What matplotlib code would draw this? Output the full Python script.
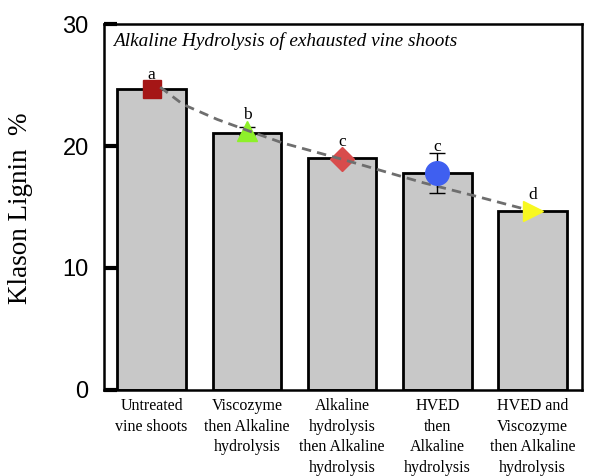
"""Klason lignin of exhausted vine shoots after alkaline hydrolysis pretreatments."""

import matplotlib
matplotlib.use("Agg")
import matplotlib.pyplot as plt

treatments = [
    "Untreated\nvine shoots",
    "Viscozyme\nthen Alkaline\nhydrolysis",
    "Alkaline\nhydrolysis\nthen Alkaline\nhydrolysis",
    "HVED\nthen\nAlkaline\nhydrolysis",
    "HVED and\nViscozyme\nthen Alkaline\nhydrolysis",
]
lignin = [24.7, 21.1, 19.0, 17.8, 14.7]
marker_values = [24.7, 21.25, 18.95, 17.8, 14.7]
errors = [0.0, 0.35, 0.0, 1.65, 0.0]
letters = ["a", "b", "c", "c", "d"]
letter_y = [25.55, 22.2, 20.0, 19.6, 15.65]

# dashed trend line
trend_x = [0.09, 0.33, 0.69, 1.03, 1.38, 2.01, 2.85, 3.41, 3.9]
trend_y = [24.84, 23.42, 22.19, 21.22, 20.25, 18.9, 17.0, 15.88, 14.87]

markers = ["s", "^", "D", "o", ">"]
marker_colors = ["#a51616", "#8ef02a", "#d84c4c", "#3f5ff0", "#f8f820"]
marker_sizes = [13, 15, 12, 17, 14]
marker_z = [3, 3, 3, 5, 5]

serif = ["Liberation Serif", "DejaVu Serif"]
sans = ["Liberation Sans", "DejaVu Sans"]

fig = plt.figure(figsize=(5.91, 4.76), dpi=100)
ax = fig.add_axes([0.176, 0.181, 0.809, 0.768])

x = list(range(len(lignin)))
ax.bar(x, lignin, width=0.72, color="#c8c8c8", edgecolor="black", linewidth=2, zorder=2)

ax.plot(trend_x, trend_y, linestyle=(0, (3.4, 2.2)), color="#6e6e6e", linewidth=2,
        zorder=4, dash_capstyle="butt", solid_joinstyle="round")

for i in x:
    if errors[i] > 0:
        ax.errorbar(i, marker_values[i], yerr=errors[i], fmt="none", ecolor="black",
                    elinewidth=1, capsize=5.5, capthick=1, zorder=marker_z[i] - 0.5)
    ax.plot(i, marker_values[i], marker=markers[i], markersize=marker_sizes[i],
            color=marker_colors[i], markeredgecolor=marker_colors[i], linestyle="none",
            zorder=marker_z[i])
    ax.text(i, letter_y[i], letters[i], ha="center", va="baseline", fontsize=12.5,
            family=serif)

ax.text(0.018, 0.978, "Alkaline Hydrolysis of exhausted vine shoots", transform=ax.transAxes,
        ha="left", va="top", fontsize=13.9, style="italic", family=serif)

ax.set_xlim(-0.5, 4.52)
ax.set_ylim(0, 30)
ax.set_yticks([0, 10, 20, 30])
ax.set_xticks(x)
ax.set_xticklabels(treatments, family=serif, fontsize=11.5, linespacing=1.38)
for lab in ax.get_yticklabels():
    lab.set_family(sans)
    lab.set_fontsize(17)
ax.tick_params(axis="y", direction="in", length=9, width=3, pad=11)
ax.tick_params(axis="x", length=0, pad=6)
for sp in ax.spines.values():
    sp.set_linewidth(1.8)

ax.set_ylabel("Klason Lignin  %", family=serif, fontsize=19.5)
ax.yaxis.set_label_coords(-0.1485, 0.498)

fig.savefig("out.png", dpi=100)
